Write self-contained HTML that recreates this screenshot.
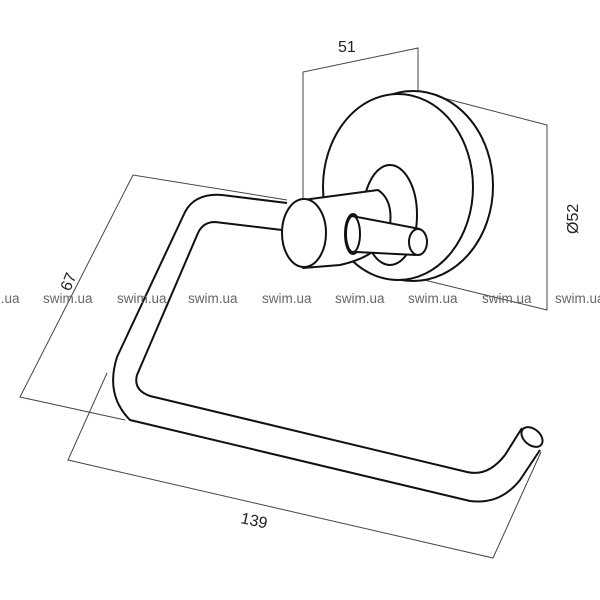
<!DOCTYPE html>
<html><head><meta charset="utf-8"><style>
html,body{margin:0;padding:0;background:#fff;width:600px;height:600px;overflow:hidden}
svg{display:block}
</style></head><body>
<svg width="600" height="600" viewBox="0 0 600 600" xmlns="http://www.w3.org/2000/svg">
<g fill="none" stroke="#444" stroke-width="1">
<path d="M287,200 L133,175 L20,397 L125,420"/>
<path d="M107,373 L68,460 L493,558 L541,452"/>
<path d="M303,240 L303,72 L418,48 L418,92"/>
<path d="M420,92 L547,125 L547,310 L412,277"/>
</g>
<g fill="none" stroke="#111" stroke-width="2" stroke-linejoin="round">
<path d="M287,203 L222,195 Q195,193 185,212 L117,357 Q105,395 130,420 L470,501 Q500,505 520,480 L540,450"/>
<path d="M282,230 L215,222 Q203,222 198,233 L137,375 Q133,390 150,396 L467,472 Q488,477 505,455 L522,428"/>
<ellipse cx="532" cy="437" rx="12" ry="8" transform="rotate(40 532 437)" fill="#fff"/>
<ellipse cx="413" cy="186" rx="80" ry="95" fill="#fff"/>
<ellipse cx="398" cy="187" rx="75" ry="93" fill="#fff"/>
<ellipse cx="390" cy="215" rx="27" ry="50" fill="#fff"/>
<path d="M303,200 L378,190 Q393,200 390,225 Q385,255 340,265 L303,268 Z" fill="#fff"/>
<ellipse cx="304" cy="233" rx="22" ry="34" fill="#fff"/>
<ellipse cx="353" cy="234" rx="8" ry="20" fill="#fff"/>
<path d="M352,216 L420,229 L418,255 L356,252 Z" fill="#fff" stroke="none"/>
<path d="M352,216 L420,229 M356,252 L416,255"/>
<ellipse cx="353" cy="234" rx="7" ry="18"/>
<ellipse cx="418" cy="242" rx="9" ry="13" fill="#fff"/>
</g>
<g font-family="Liberation Sans, sans-serif" fill="#222" font-size="16">
<text x="338" y="52">51</text>
<text x="0" y="0" transform="translate(578,234) rotate(-90)">Ø52</text>
<text x="0" y="0" transform="translate(70,292) rotate(-68)">67</text>
<text x="0" y="0" transform="translate(240,523) rotate(12)">139</text>
</g>
<g font-family="Liberation Sans, sans-serif" fill="#666" font-size="13.5">
<text x="-30" y="303">swim.ua</text><text x="43" y="303">swim.ua</text><text x="117" y="303">swim.ua</text><text x="188" y="303">swim.ua</text><text x="262" y="303">swim.ua</text><text x="335" y="303">swim.ua</text><text x="408" y="303">swim.ua</text><text x="482" y="303">swim.ua</text><text x="555" y="303">swim.ua</text>
</g>
</svg>
</body></html>
